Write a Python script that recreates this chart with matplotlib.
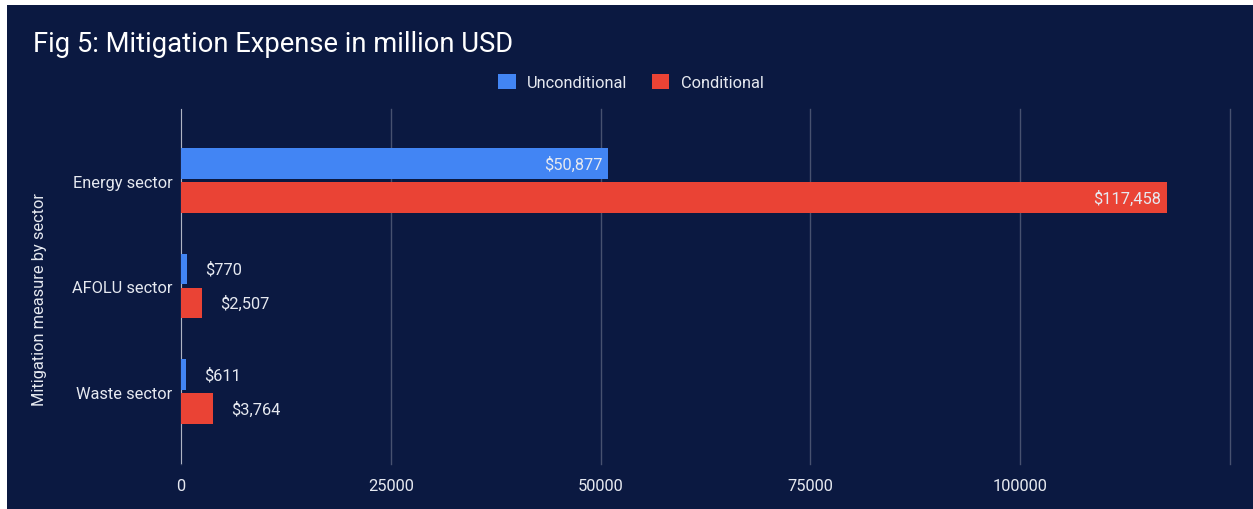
import matplotlib.pyplot as plt
from matplotlib.patches import Patch

# Data
sectors = ['Energy sector', 'AFOLU sector', 'Waste sector']
unconditional = [50877, 770, 611]
conditional = [117458, 2507, 3764]
xticks = [0, 25000, 50000, 75000, 100000]

navy = '#0b1941'
blue = '#4285f4'
red = '#ea4335'
txt = '#e6e9f0'
plt.rcParams['font.family'] = ['Roboto', 'DejaVu Sans']

fig = plt.figure(figsize=(12.53, 5.10), dpi=100, facecolor='white')
# navy panel with thin white strip on top and left
fig.patches.append(plt.Rectangle((7 / 1253, 0), 1, 1 - 6 / 510, transform=fig.transFigure,
                                 facecolor=navy, edgecolor='none', zorder=-1))

ax = fig.add_axes([181 / 1253, 45 / 510, 1049 / 1253, 355 / 510])
ax.set_facecolor(navy)

pos = list(range(len(sectors)))
h = 0.29
off = 0.161
ax.barh([p - off for p in pos], unconditional, height=h, color=blue, zorder=3)
ax.barh([p + off for p in pos], conditional, height=h, color=red, zorder=3)

# value labels: inside the long bars, beside the short ones
for vals, sgn in ((unconditional, -1), (conditional, 1)):
    for p, v in zip(pos, vals):
        lab = '${:,}'.format(v)
        if v > 20000:
            ax.annotate(lab, (v, p + sgn * off), xytext=(-4, 0), textcoords='offset points',
                        ha='right', va='center', color=txt, fontsize=11.8, zorder=4)
        else:
            ax.annotate(lab, (v, p + sgn * off), xytext=(13, 0), textcoords='offset points',
                        ha='left', va='center', color=txt, fontsize=11.8, zorder=4)

ax.set_xlim(0, 125000)
ax.set_ylim(2.687, -0.678)
ax.set_xticks(xticks + [125000])
ax.set_xticklabels([str(t) for t in xticks] + [''])
ax.set_yticks(pos)
ax.set_yticklabels(sectors)
ax.tick_params(axis='both', length=0, colors=txt, labelsize=11.8)
ax.tick_params(axis='x', pad=10)
ax.tick_params(axis='y', pad=6)
ax.grid(axis='x', color='#47516f', linewidth=1, zorder=0)
for gl in ax.get_xgridlines():
    gl.set_clip_on(False)
ax.axvline(0, color='#c5c9d4', linewidth=1.2, zorder=2)
for s in ax.spines.values():
    s.set_visible(False)

fig.text(40 / 1253, 1 - 299 / 510, 'Mitigation measure by sector', rotation=90,
         ha='center', va='center', color=txt, fontsize=11.8)

fig.text(33 / 1253, 1 - 44 / 510, 'Fig 5: Mitigation Expense in million USD',
         ha='left', va='center', color='white', fontsize=19.7)

handles = [Patch(facecolor=blue, label='Unconditional'),
           Patch(facecolor=red, label='Conditional')]
fig.legend(handles=handles, loc='center', bbox_to_anchor=(631 / 1253, 1 - 83 / 510),
           ncol=2, frameon=False, fontsize=11.8, labelcolor=txt,
           handlelength=1.05, handleheight=1.05, handletextpad=0.7, columnspacing=1.5)

fig.savefig('out.png', dpi=100, facecolor=fig.get_facecolor())
